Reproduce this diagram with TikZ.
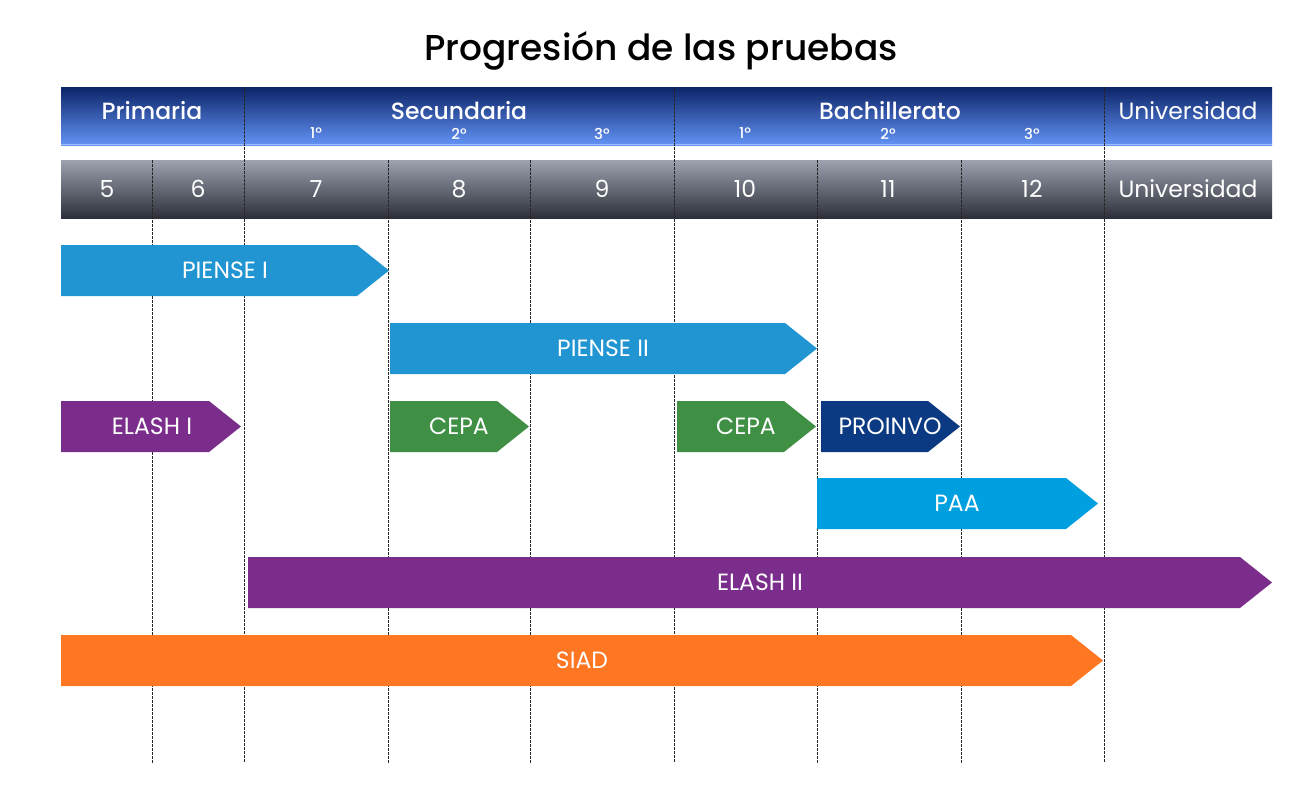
\documentclass[tikz,border=0pt]{standalone}
\usepackage{fontspec}
\setmainfont{Poppins}
\newfontfamily\medio{Poppins}[UprightFont={* Medium}]

\definecolor{azulpiense}{HTML}{2194D2}
\definecolor{moradoelash}{HTML}{7B2D8C}
\definecolor{verdecepa}{HTML}{3F8F44}
\definecolor{azulproinvo}{HTML}{0B3A82}
\definecolor{celestepaa}{HTML}{009FE0}
\definecolor{naranjasiad}{HTML}{FF7722}
\definecolor{navyalto}{HTML}{0C2468}
\definecolor{azulbajo}{HTML}{6393F5}
\definecolor{grisalto}{HTML}{9DA2AE}
\definecolor{grisbajo}{HTML}{2C2F3A}

\begin{document}
\begin{tikzpicture}[
    x=1pt, y=-1pt,
    guia/.style={dash pattern=on 2.5pt off 1.5pt, line width=0.7pt, black!85},
    etiq/.style={text=white, inner sep=0pt, font=\fontsize{23.5}{28}\selectfont},
    nivel/.style={text=white, inner sep=0pt, font=\medio\fontsize{23.5}{28}\selectfont},
    grado/.style={text=white, inner sep=0pt, font=\fontsize{23.5}{28}\selectfont},
    ordinal/.style={text=white, inner sep=0pt, font=\medio\fontsize{15}{18}\selectfont}
]
\useasboundingbox (0,0) rectangle (1300,800);

\node[inner sep=0pt, anchor=base, font=\medio\fontsize{36}{42}\selectfont] (titulo) at (661,60) {Progresión de las pruebas};

% barras de cabecera
\shade[top color=navyalto, bottom color=azulbajo] (61,87) rectangle (1272,145);
\draw[line width=1pt, azulbajo!60!white] (61,144.5) -- (1272,144.5);
\shade[top color=grisalto, bottom color=grisbajo] (61,160) rectangle (1272,218);

% lineas guia
\draw[guia] (244,87) -- (244,763);
\draw[guia] (674,87) -- (674,763);
\draw[guia] (1104,87) -- (1104,763);
\draw[guia] (152,160) -- (152,763);
\draw[guia] (388,160) -- (388,763);
\draw[guia] (530,160) -- (530,763);
\draw[guia] (817,160) -- (817,763);
\draw[guia] (961,160) -- (961,763);

% niveles
\node[nivel] (primaria) at (152,111) {Primaria};
\node[nivel] (secundaria) at (459,111) {Secundaria};
\node[nivel] (bachillerato) at (890,111) {Bachillerato};
\node[grado] (univ) at (1188,111) {Universidad};

\node[ordinal] (s1) at (316,133.5) {1º};
\node[ordinal] (s2) at (459,133.5) {2º};
\node[ordinal] (s3) at (602,133.5) {3º};
\node[ordinal] (b1) at (745,133.5) {1º};
\node[ordinal] (b2) at (888,133.5) {2º};
\node[ordinal] (b3) at (1032,133.5) {3º};

% grados
\node[grado] (g5) at (107,189) {5};
\node[grado] (g6) at (198,189) {6};
\node[grado] (g7) at (316,189) {7};
\node[grado] (g8) at (459,189) {8};
\node[grado] (g9) at (602,189) {9};
\node[grado] (g10) at (745,189) {10};
\node[grado] (g11) at (888,189) {11};
\node[grado] (g12) at (1032,189) {12};
\node[grado] (guniv) at (1188,189) {Universidad};

% pruebas
\fill[azulpiense] (61,245) -- (357,245) -- (389,270.5) -- (357,296) -- (61,296) -- cycle;
\fill[azulpiense] (390,323) -- (785,323) -- (817,348.5) -- (785,374) -- (390,374) -- cycle;
\fill[moradoelash] (61,401) -- (209,401) -- (241,426.5) -- (209,452) -- (61,452) -- cycle;
\fill[verdecepa] (390,401) -- (497,401) -- (529,426.5) -- (497,452) -- (390,452) -- cycle;
\fill[verdecepa] (677,401) -- (784,401) -- (816,426.5) -- (784,452) -- (677,452) -- cycle;
\fill[azulproinvo] (821,401) -- (928,401) -- (960,426.5) -- (928,452) -- (821,452) -- cycle;
\fill[celestepaa] (817,478) -- (1066,478) -- (1098,503.5) -- (1066,529) -- (817,529) -- cycle;
\fill[moradoelash] (248,557) -- (1240,557) -- (1272,582.5) -- (1240,608) -- (248,608) -- cycle;
\fill[naranjasiad] (61,635) -- (1071,635) -- (1103,660.5) -- (1071,686) -- (61,686) -- cycle;

\node[etiq] (piense1) at (225,270.5) {PIENSE I};
\node[etiq] (piense2) at (603,348.5) {PIENSE II};
\node[etiq] (elash1) at (152,426.5) {ELASH I};
\node[etiq] (cepa1) at (459,426.5) {CEPA};
\node[etiq] (cepa2) at (746,426.5) {CEPA};
\node[etiq] (proinvo) at (890,426.5) {PROINVO};
\node[etiq] (paa) at (957,503.5) {PAA};
\node[etiq] (elash2) at (760,582.5) {ELASH II};
\node[etiq] (siad) at (582,660.5) {SIAD};
\end{tikzpicture}
\end{document}
